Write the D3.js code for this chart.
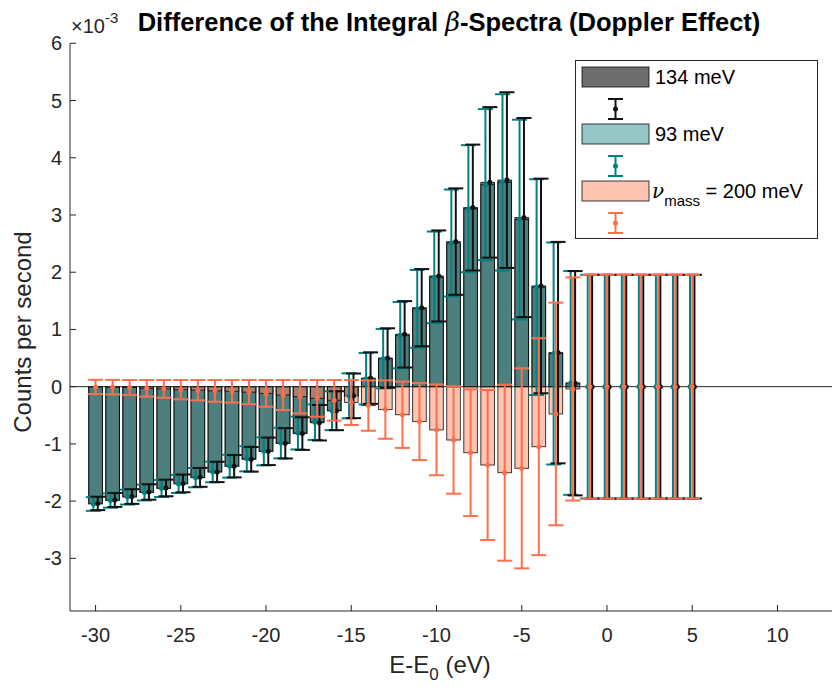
<!DOCTYPE html>
<html><head><meta charset="utf-8">
<script src="https://cdn.jsdelivr.net/npm/d3@7"></script>
<style>
body{margin:0;background:#fff}
svg{display:block}
text{font-family:"Liberation Sans",Arial,Helvetica,sans-serif;fill:#262626}
</style>
</head><body>
<svg id="chart" width="832" height="693"></svg>
<script>
// ---------- data (counts per second, in units of 1e-3) ----------
const energies = [-30,-29,-28,-27,-26,-25,-24,-23,-22,-21,-20,-19,-18,-17,-16,-15,-14,-13,-12,-11,-10,-9,-8,-7,-6,-5,-4,-3,-2,-1,0,1,2,3,4,5];
const bars134 = [-2.04,-1.98,-1.92,-1.84,-1.77,-1.69,-1.585,-1.49,-1.39,-1.27,-1.13,-0.99,-0.82,-0.63,-0.42,-0.16,0.15,0.50,0.915,1.38,1.935,2.535,3.13,3.57,3.61,2.955,1.76,0.595,0.06,0,0,0,0,0,0,0];
const bars93  = [-2.05,-1.99,-1.93,-1.85,-1.78,-1.70,-1.59,-1.49,-1.39,-1.26,-1.13,-0.985,-0.81,-0.62,-0.42,-0.16,0.14,0.49,0.90,1.36,1.91,2.51,3.11,3.53,3.57,2.92,1.74,0.58,0.065,0,0,0,0,0,0,0];
const barsNu  = [-0.005,-0.008,-0.014,-0.029,-0.038,-0.052,-0.061,-0.073,-0.08,-0.095,-0.117,-0.146,-0.175,-0.204,-0.238,-0.276,-0.33,-0.40,-0.49,-0.61,-0.755,-0.932,-1.154,-1.369,-1.503,-1.427,-1.049,-0.477,-0.04,0,0,0,0,0,0,0];
const err134  = [0.117,0.122,0.128,0.135,0.145,0.155,0.165,0.178,0.195,0.215,0.24,0.265,0.285,0.31,0.34,0.39,0.45,0.52,0.58,0.675,0.795,0.93,1.10,1.315,1.535,1.74,1.875,1.935,1.96,1.955,1.955,1.955,1.955,1.955,1.955,1.955];
const err93   = [0.12,0.125,0.13,0.138,0.148,0.158,0.168,0.18,0.2,0.22,0.245,0.268,0.287,0.31,0.34,0.393,0.45,0.52,0.58,0.68,0.8,0.935,1.11,1.32,1.54,1.745,1.885,1.94,1.955,1.955,1.955,1.955,1.955,1.955,1.955,1.955];
const errNu   = [0.125,0.127,0.131,0.145,0.155,0.169,0.178,0.19,0.197,0.212,0.234,0.263,0.292,0.321,0.355,0.393,0.44,0.51,0.58,0.673,0.793,0.938,1.107,1.311,1.538,1.748,1.895,1.945,1.95,1.955,1.955,1.955,1.955,1.955,1.955,1.955];
const xTicks = [-30,-25,-20,-15,-10,-5,0,5,10];
const yTicks = [-3,-2,-1,0,1,2,3,4,5,6];
const seriesNames = ["134 meV","93 meV","= 200 meV"];

// ---------- layout ----------
const svg = d3.select("#chart");
const L = 70, R = 832, T = 43.3, B = 611;
const x = d3.scaleLinear().domain([-31.5, 13.2]).range([L, R]);
const y = d3.scaleLinear().domain([-3.92, 6]).range([B, T]);
const barW = x(0.8) - x(0);
const errOff = x(0.13) - x(0);
const capW = 15;

const series = [
  {vals: bars134, err: err134, fill: "#6e6e6e", fo: 1,   ec: "#111111", off: errOff},
  {vals: bars93,  err: err93,  fill: "rgb(41,143,139)", fo: 0.5, ec: "#008080", off: -errOff},
  {vals: barsNu,  err: errNu,  fill: "rgb(251,137,101)", fo: 0.5, ec: "#ff6e4c", off: 0}
];

const plot = svg.append("g");
// bars
series.forEach(s => {
  plot.append("g").selectAll("rect").data(energies).join("rect")
    .attr("x", d => x(d) - barW/2)
    .attr("width", barW)
    .attr("y", (d,i) => y(Math.max(0, s.vals[i])))
    .attr("height", (d,i) => Math.abs(y(s.vals[i]) - y(0)))
    .attr("fill", s.fill).attr("fill-opacity", s.fo)
    .attr("stroke", "#000").attr("stroke-opacity", 0.75).attr("stroke-width", 1);
});
// baseline
plot.append("line").attr("x1", L).attr("x2", R).attr("y1", y(0)).attr("y2", y(0))
  .attr("stroke", "#262626").attr("stroke-width", 1);

// error bars: teal, black, salmon
[series[1], series[0], series[2]].forEach(s => {
  const g = plot.append("g").attr("stroke", s.ec).attr("stroke-width", 2);
  energies.forEach((e, i) => {
    const cx = x(e) + s.off, v = s.vals[i], er = s.err[i];
    g.append("line").attr("x1", cx).attr("x2", cx).attr("y1", y(v - er)).attr("y2", y(v + er));
    g.append("line").attr("x1", cx - capW/2).attr("x2", cx + capW/2).attr("y1", y(v + er)).attr("y2", y(v + er));
    g.append("line").attr("x1", cx - capW/2).attr("x2", cx + capW/2).attr("y1", y(v - er)).attr("y2", y(v - er));
    g.append("circle").attr("cx", cx).attr("cy", y(v)).attr("r", 2.5).attr("fill", s.ec).attr("stroke", "none");
  });
});

// ---------- axes ----------
const ax = svg.append("g").attr("stroke", "#262626");
ax.append("line").attr("x1", L).attr("x2", L).attr("y1", T).attr("y2", B).attr("stroke-width", 1);
ax.append("line").attr("x1", L).attr("x2", R).attr("y1", B).attr("y2", B).attr("stroke-width", 1);
xTicks.forEach(t => {
  ax.append("line").attr("x1", x(t)).attr("x2", x(t)).attr("y1", B).attr("y2", B - 6);
  svg.append("text").attr("x", x(t)).attr("y", B + 31).attr("text-anchor", "middle")
    .attr("font-size", 20).text(t);
});
yTicks.forEach(t => {
  ax.append("line").attr("x1", L).attr("x2", L + 6).attr("y1", y(t)).attr("y2", y(t));
  svg.append("text").attr("x", L - 8).attr("y", y(t) + 7).attr("text-anchor", "end")
    .attr("font-size", 20).text(t);
});
// exponent
const ex = svg.append("text").attr("x", 71).attr("y", 33).attr("font-size", 20);
ex.append("tspan").text("×10");
ex.append("tspan").attr("dy", -10).attr("font-size", 15).text("-3");

// axis labels
const xl = svg.append("text").attr("x", 440).attr("y", 673).attr("text-anchor", "middle").attr("font-size", 24);
xl.append("tspan").text("E-E");
xl.append("tspan").attr("dy", 7).attr("font-size", 17).text("0");
xl.append("tspan").attr("dy", -7).text(" (eV)");
svg.append("text").attr("transform", "translate(31,332) rotate(-90)").attr("text-anchor", "middle")
  .attr("font-size", 24).text("Counts per second");

// title
const tt = svg.append("text").attr("x", 449).attr("y", 31).attr("text-anchor", "middle")
  .attr("font-size", 25.5).attr("font-weight", "bold")
  .style("fill", "#000");
tt.append("tspan").text("Difference of the Integral ");
tt.append("tspan").attr("font-family", "'DejaVu Serif',serif").attr("font-style", "italic").attr("font-weight", "normal").text("β");
tt.append("tspan").text("-Spectra (Doppler Effect)");

// ---------- legend ----------
const lg = svg.append("g");
lg.append("rect").attr("x", 575.5).attr("y", 60.5).attr("width", 242).attr("height", 178)
  .attr("fill", "#fff").attr("stroke", "#262626").attr("stroke-width", 1);
const rowY = [67, 124, 181];
series.forEach((s, k) => {
  const py = rowY[k];
  lg.append("rect").attr("x", 582).attr("y", py).attr("width", 67).attr("height", 20)
    .attr("fill", s.fill).attr("fill-opacity", s.fo).attr("stroke", "#000").attr("stroke-opacity", 0.75);
  const ly = py + 42, h = 10;
  const g = lg.append("g").attr("stroke", s.ec).attr("stroke-width", 2);
  g.append("line").attr("x1", 615.5).attr("x2", 615.5).attr("y1", ly - h).attr("y2", ly + h);
  g.append("line").attr("x1", 608).attr("x2", 623).attr("y1", ly - h).attr("y2", ly - h);
  g.append("line").attr("x1", 608).attr("x2", 623).attr("y1", ly + h).attr("y2", ly + h);
  g.append("circle").attr("cx", 615.5).attr("cy", ly).attr("r", 2.5).attr("fill", s.ec).attr("stroke", "none");
  const t = lg.append("text").attr("x", 655).attr("y", py + 17).attr("font-size", 20).style("fill", "#000");
  if (k === 2) {
    t.attr("x", 652);
    t.append("tspan").attr("font-family", "'DejaVu Serif',serif").attr("font-style", "italic").text("ν");
    t.append("tspan").attr("dy", 8).attr("font-size", 15).text("mass");
    t.append("tspan").attr("dy", -8).text(" " + seriesNames[k]);
  } else {
    t.text(seriesNames[k]);
  }
});
</script>
</body></html>
